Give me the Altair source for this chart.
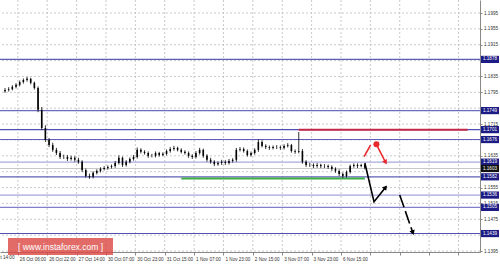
import altair as alt
import pandas as pd

# ---------------- data ----------------
close = [1.1801, 1.1803, 1.1809, 1.1814, 1.1821, 1.1826, 1.1829, 1.1819, 1.1806, 1.1751,
         1.1705, 1.1675, 1.1662, 1.1650, 1.1642, 1.1632, 1.1632, 1.1627, 1.1630, 1.1625,
         1.1620, 1.1599, 1.1584, 1.1582, 1.1592, 1.1597, 1.1602, 1.1604, 1.1607, 1.1609,
         1.1617, 1.1630, 1.1612, 1.1620, 1.1627, 1.1632, 1.1650, 1.1645, 1.1642, 1.1635,
         1.1635, 1.1642, 1.1637, 1.1640, 1.1647, 1.1652, 1.1655, 1.1650, 1.1645, 1.1642,
         1.1635, 1.1632, 1.1642, 1.1650, 1.1635, 1.1625, 1.1620, 1.1614, 1.1617, 1.1620,
         1.1617, 1.1622, 1.1625, 1.1650, 1.1652, 1.1647, 1.1637, 1.1642, 1.1650, 1.1670,
         1.1660, 1.1657, 1.1655, 1.1657, 1.1657, 1.1655, 1.1660, 1.1662, 1.1647, 1.1645,
         1.1647, 1.1620, 1.1612, 1.1612, 1.1609, 1.1612, 1.1609, 1.1609, 1.1607, 1.1602,
         1.1597, 1.1589, 1.1584, 1.1594, 1.1609, 1.1612, 1.1609, 1.1612, 1.1605]
high = [1.1806, 1.1808, 1.1813, 1.1818, 1.1825, 1.1830, 1.1834, 1.1832, 1.1822, 1.1810,
        1.1758, 1.1712, 1.1680, 1.1668, 1.1655, 1.1647, 1.1638, 1.1637, 1.1635, 1.1634,
        1.1630, 1.1624, 1.1603, 1.1590, 1.1596, 1.1601, 1.1606, 1.1609, 1.1611, 1.1613,
        1.1622, 1.1636, 1.1633, 1.1624, 1.1631, 1.1637, 1.1656, 1.1654, 1.1649, 1.1646,
        1.1640, 1.1646, 1.1645, 1.1644, 1.1651, 1.1657, 1.1660, 1.1658, 1.1654, 1.1649,
        1.1646, 1.1639, 1.1647, 1.1655, 1.1653, 1.1639, 1.1630, 1.1624, 1.1621, 1.1625,
        1.1624, 1.1627, 1.1629, 1.1655, 1.1657, 1.1656, 1.1651, 1.1646, 1.1654, 1.1676,
        1.1674, 1.1664, 1.1661, 1.1661, 1.1662, 1.1661, 1.1664, 1.1667, 1.1665, 1.1651,
        1.1695, 1.1652, 1.1624, 1.1617, 1.1616, 1.1617, 1.1615, 1.1614, 1.1613, 1.1611,
        1.1606, 1.1601, 1.1593, 1.1598, 1.1613, 1.1616, 1.1616, 1.1615, 1.1615]
low = [1.1794, 1.1797, 1.1800, 1.1805, 1.1810, 1.1817, 1.1822, 1.1815, 1.1802, 1.1745,
       1.1700, 1.1670, 1.1657, 1.1645, 1.1637, 1.1627, 1.1627, 1.1622, 1.1623, 1.1620,
       1.1615, 1.1594, 1.1580, 1.1577, 1.1578, 1.1588, 1.1593, 1.1598, 1.1600, 1.1603,
       1.1605, 1.1613, 1.1607, 1.1608, 1.1616, 1.1623, 1.1628, 1.1641, 1.1638, 1.1630,
       1.1631, 1.1631, 1.1633, 1.1634, 1.1636, 1.1643, 1.1648, 1.1646, 1.1641, 1.1638,
       1.1630, 1.1627, 1.1628, 1.1638, 1.1630, 1.1620, 1.1615, 1.1609, 1.1610, 1.1612,
       1.1612, 1.1613, 1.1618, 1.1620, 1.1646, 1.1643, 1.1633, 1.1633, 1.1638, 1.1645,
       1.1656, 1.1652, 1.1650, 1.1651, 1.1652, 1.1650, 1.1651, 1.1656, 1.1643, 1.1640,
       1.1641, 1.1615, 1.1607, 1.1607, 1.1604, 1.1605, 1.1604, 1.1604, 1.1602, 1.1597,
       1.1592, 1.1584, 1.1579, 1.1580, 1.1590, 1.1605, 1.1604, 1.1606, 1.1601]
first_open = 1.1798
bar_hours = [2 * i for i in range(len(close))]

level_prices = [1.1878, 1.1749, 1.1701, 1.1676, 1.1619, 1.1582, 1.1536, 1.1505, 1.1439]
level_labels = ["1.1878", "1.1749", "1.1701", "1.1676", "1.1619", "1.1582", "1.1536", "1.1505", "1.1439"]
level_colors = ["#5e5eb8", "#6a6ac0", "#5050b0", "#5e5eb8", "#a8a8dc", "#5e5eb8", "#a4a4da", "#8080c8", "#5050b0"]
current_price = 1.1603
current_label = "1.1603"

# visible price tick labels (others are hidden under the level labels)
price_tick_labels = ["1.1995", "1.1955", "1.1915", "1.1835", "1.1795", "1.1715",
                     "1.1635", "1.1555", "1.1515", "1.1475", "1.1395"]
# all horizontal grid prices
grid_prices = [1.1995, 1.1955, 1.1915, 1.1875, 1.1835, 1.1795, 1.1755, 1.1715,
               1.1675, 1.1635, 1.1595, 1.1555, 1.1515, 1.1475, 1.1435, 1.1395]
time_tick_hours = [7, 23, 39, 55, 71, 87, 103, 119, 135, 151, 167, 183, 199, 215, 231, 247]
time_tick_labels = ["26 Oct 06:00", "26 Oct 22:00", "27 Oct 14:00", "30 Oct 07:00", "30 Oct 23:00",
                    "31 Oct 15:00", "1 Nov 07:00", "1 Nov 23:00", "2 Nov 15:00", "3 Nov 07:00",
                    "3 Nov 23:00", "6 Nov 15:00"]
first_partial_hour = -10
first_partial_label = "25 Oct 14:00"

# resistance (red) and support (green) segments
red_level = {"h1": 160, "h2": 252, "p": 1.1701}
green_level = {"h1": 96, "h2": 196, "p": 1.1578}

# forecast arrows: (hour, price)
black_path_h = [196, 201, 207]
black_path_p = [1.1617, 1.1519, 1.1554]
black_dash_h = [215, 222]
black_dash_p = [1.1536, 1.1443]
red_dash_h = [195.6, 199.1]
red_dash_p = [1.1633, 1.1662]
red_dot = (202.3, 1.1664)
red_arrow_h = [202.3, 207.1]
red_arrow_p = [1.1664, 1.1620]

# ---------------- tables ----------------
candles = pd.DataFrame({
    "hour": bar_hours,
    "open": [first_open] + close[:-1],
    "close": close,
    "high": high,
    "low": low,
})
levels = pd.DataFrame({"price": level_prices, "label": level_labels, "color": level_colors})
cur = pd.DataFrame({"price": [current_price], "label": [current_label]})
grid_df = pd.DataFrame({"price": grid_prices})
vgrid_df = pd.DataFrame({"hour": time_tick_hours})

X_DOMAIN = [0, 256]
Y_DOMAIN = [1.13925, 1.20278]
FONT = "Liberation Sans"
FS = 4.6

xs = alt.Scale(domain=X_DOMAIN, nice=False, zero=False)
ys = alt.Scale(domain=Y_DOMAIN, nice=False, zero=False)

js_labels = "[" + ",".join("'" + s + "'" for s in time_tick_labels) + "]"
x_axis = alt.Axis(values=time_tick_hours, grid=False,
                  labelExpr=js_labels + "[round((datum.value-7)/16)] || ''",
                  labelAlign="left", labelOffset=1.5, labelFontSize=FS, labelFont=FONT,
                  labelColor="#333333", labelPadding=1, labelOverlap=False, labelFlush=False,
                  tickSize=3, tickColor="#888888", domainColor="#888888", title=None)
y_axis = alt.Axis(orient="right", values=[float(s) for s in price_tick_labels], format=".4f",
                  grid=False, labelFontSize=FS, labelFont=FONT, labelColor="#333333",
                  labelPadding=1.5, labelOverlap=False, labelFlush=False, tickSize=2,
                  tickColor="#888888", domainColor="#888888", title=None)

X = lambda f: alt.X(f, scale=xs, axis=x_axis)
Y = lambda f: alt.Y(f, scale=ys, axis=y_axis)

base = alt.Chart(candles)

hgrid = alt.Chart(grid_df).mark_rule(color="#bdbdbd", strokeWidth=0.8, strokeDash=[2, 2]).encode(
    y=Y("price:Q"))
vgrid = alt.Chart(vgrid_df).mark_rule(color="#bdbdbd", strokeWidth=0.8, strokeDash=[2, 2]).encode(
    x=X("hour:Q"))

level_rules = alt.Chart(levels).mark_rule(strokeWidth=1.1).encode(
    y=Y("price:Q"),
    color=alt.Color("color:N", scale=None),
)
cur_rule = alt.Chart(cur).mark_rule(strokeWidth=1, color="#c8c8c8").encode(y=Y("price:Q"))

red_rule = alt.Chart(pd.DataFrame([red_level])).mark_rule(strokeWidth=2, color="#c3284a").encode(
    x=X("h1:Q"), x2="h2:Q", y=Y("p:Q")
)
green_rule = alt.Chart(pd.DataFrame([green_level])).mark_rule(strokeWidth=2, color="#3cae44").encode(
    x=X("h1:Q"), x2="h2:Q", y=Y("p:Q")
)

wicks = base.mark_rule(color="#000000", strokeWidth=0.8).encode(
    x=X("hour:Q"), y=Y("low:Q"), y2="high:Q"
)
bodies = base.mark_bar(color="#000000", size=1.6).encode(
    x=X("hour:Q"), y=Y("open:Q"), y2="close:Q"
)

def path_df(hs, ps):
    return pd.DataFrame({"hour": hs, "price": ps, "seq": list(range(len(hs)))})

def path_layer(hs, ps, color, dash=None):
    kw = dict(color=color, strokeWidth=1.6)
    if dash:
        kw["strokeDash"] = dash
    return alt.Chart(path_df(hs, ps)).mark_line(**kw).encode(
        x=X("hour:Q"), y=Y("price:Q"), order="seq:Q")

black_path = path_layer(black_path_h, black_path_p, "#000000")
black_dash = path_layer(black_dash_h, black_dash_p, "#000000", [13, 4])
red_dash = path_layer(red_dash_h, red_dash_p, "#e8282c")
red_arrow = path_layer(red_arrow_h, red_arrow_p, "#e8282c")
red_dot_layer = alt.Chart(pd.DataFrame({"hour": [red_dot[0]], "price": [red_dot[1]]})).mark_circle(
    color="#e8282c", size=36, opacity=1).encode(x=X("hour:Q"), y=Y("price:Q"))

heads = pd.DataFrame({
    "hour": [black_path_h[-1], black_dash_h[-1], red_arrow_h[-1]],
    "price": [black_path_p[-1], black_dash_p[-1], red_arrow_p[-1]],
    "angle": [38, 161, 153],
    "color": ["#000000", "#000000", "#e8282c"],
})
arrow_heads = alt.Chart(heads).mark_point(shape="triangle", filled=True, size=30, opacity=1).encode(
    x=X("hour:Q"), y=Y("price:Q"),
    angle=alt.Angle("angle:Q", scale=None),
    color=alt.Color("color:N", scale=None),
)

box_shape = "M-1,-0.4L1,-0.4L1,0.4L-1,0.4Z"
label_boxes = alt.Chart(levels).mark_point(shape=box_shape, filled=True, size=324, opacity=1,
                                           color="#1c1c84", strokeWidth=0).encode(
    x=alt.value(490), y=Y("price:Q"))
label_texts = alt.Chart(levels).mark_text(color="#ffffff", fontSize=FS, font=FONT, align="center",
                                          baseline="middle").encode(
    x=alt.value(490), y=Y("price:Q"), text="label:N")
cur_box = alt.Chart(cur).mark_point(shape=box_shape, filled=True, size=324, opacity=1,
                                    color="#111111", strokeWidth=0).encode(
    x=alt.value(490), y=Y("price:Q"))
cur_text = alt.Chart(cur).mark_text(color="#ffffff", fontSize=FS, font=FONT, align="center",
                                    baseline="middle").encode(
    x=alt.value(490), y=Y("price:Q"), text="label:N")

partial = alt.Chart(pd.DataFrame({"hour": [first_partial_hour], "t": [first_partial_label]})).mark_text(
    fontSize=FS, font=FONT, color="#333333", align="left", baseline="middle", dx=1.5).encode(
    x=X("hour:Q"), y=alt.value(258), text="t:N")

wm = pd.DataFrame({"t": ["[ www.instaforex.com ]"]})
wm_box = alt.Chart(wm).mark_rect(color="#dc4a46", opacity=0.82).encode(
    x=alt.value(8), x2=alt.value(113), y=alt.value(238), y2=alt.value(255))
wm_text = alt.Chart(wm).mark_text(color="#ffffff", fontSize=8.5, font=FONT, align="center",
                                  baseline="middle").encode(
    x=alt.value(60.5), y=alt.value(247), text="t:N")

chart = alt.layer(
    hgrid, vgrid, level_rules, cur_rule, red_rule, green_rule, wicks, bodies,
    black_path, black_dash, red_dash, red_arrow, red_dot_layer, arrow_heads,
    label_boxes, label_texts, cur_box, cur_text, partial, wm_box, wm_text,
).properties(
    width=480, height=252,
    autosize=alt.AutoSizeParams(type="none"),
    padding={"left": 0, "top": 0, "right": 20, "bottom": 12},
    background="#ffffff",
).configure_view(stroke=None).configure_axis(labelOverlap=False)

chart.save("out.html", embed_options={"renderer": "svg", "actions": False})
